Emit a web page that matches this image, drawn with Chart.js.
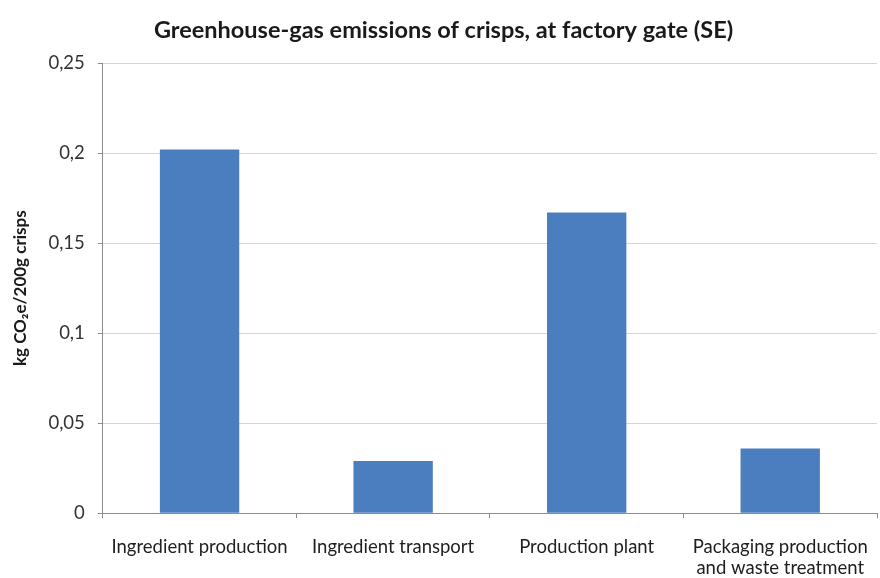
<!DOCTYPE html>
<html>
<head>
<meta charset="utf-8">
<script src="https://cdn.jsdelivr.net/npm/chart.js@4/dist/chart.umd.min.js"></script>
<style>
    html, body { margin: 0; padding: 0; background: #fff; }
    #chart { display: block; }
</style>
</head>
<body>
<canvas id="chart" width="880" height="578"></canvas>
<script>
    // emissions per stage, kg CO2e per 200 g bag
    const stages = ['Ingredient production', 'Ingredient transport', 'Production plant', ['Packaging production', 'and waste treatment']];
    const emissions = [0.202, 0.029, 0.167, 0.036];
    const yTicks = [0, 0.05, 0.1, 0.15, 0.2, 0.25];

    const font = 'Lato, "Open Sans", sans-serif';
    const xLabelPad = 18;

    function comma(v) {
        return String(Math.round(v * 100) / 100).replace('.', ',');
    }

    new Chart(document.getElementById('chart'), {
        type: 'bar',
        data: {
            labels: stages,
            datasets: [{
                data: emissions,
                backgroundColor: '#4a7ebf',
                borderWidth: 0,
                barPercentage: 0.82,
                categoryPercentage: 0.5
            }]
        },
        options: {
            responsive: false,
            animation: false,
            layout: { padding: { left: 10, right: 3, bottom: 0 } },
            plugins: {
                legend: { display: false },
                tooltip: { enabled: false },
                title: {
                    display: true,
                    text: 'Greenhouse-gas emissions of crisps, at factory gate (SE)',
                    color: '#1a1a1a',
                    font: { family: font, size: 23.5, weight: 'bold' },
                    padding: { top: 16, bottom: 19 }
                }
            },
            scales: {
                x: {
                    // tick padding is counted twice in the axis height, drop the extra one;
                    // labels fit inside their categories so no side padding is needed
                    afterFit: scale => {
                        scale.height -= xLabelPad;
                        scale.paddingRight = 0;
                        scale.paddingLeft = 0;
                    },
                    grid: { drawOnChartArea: false, tickLength: 5, color: '#8c8c8c', offset: true },
                    border: { color: '#8c8c8c' },
                    ticks: {
                        color: '#1e1e1e',
                        padding: xLabelPad,
                        maxRotation: 0,
                        autoSkip: false,
                        font: { family: font, size: 18.5, lineHeight: 1.13 }
                    }
                },
                y: {
                    min: 0,
                    max: 0.25,
                    afterBuildTicks: axis => { axis.ticks = yTicks.map(v => ({ value: v })); },
                    grid: { color: '#d9d4cf', tickLength: 5, tickColor: '#8c8c8c' },
                    border: { color: '#8c8c8c' },
                    ticks: {
                        color: '#333',
                        padding: 13,
                        font: { family: font, size: 18.5 },
                        callback: v => comma(v)
                    },
                    title: {
                        display: true,
                        text: 'kg CO₂e/200g crisps',
                        color: '#1a1a1a',
                        font: { family: font, size: 17, weight: 'bold' },
                        padding: { top: 0, bottom: 5 }
                    }
                }
            }
        }
    });
</script>
</body>
</html>
